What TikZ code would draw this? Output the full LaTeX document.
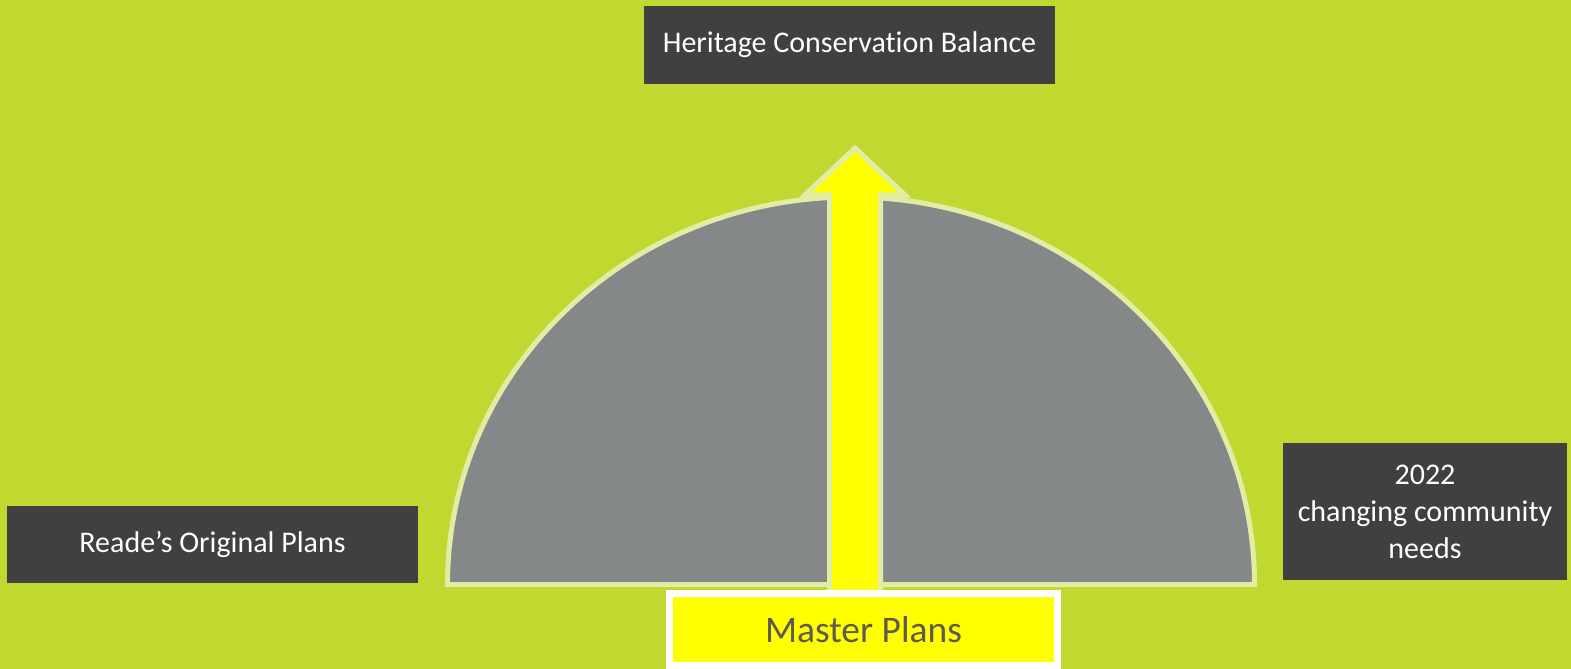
\documentclass[tikz,border=0pt]{standalone}
\usepackage{fontspec}
\setmainfont[Ligatures=NoCommon,RawFeature={-liga,-clig,-calt}]{Carlito}
\definecolor{bg}{RGB}{192,216,48}
\definecolor{darkbox}{RGB}{64,64,64}
\definecolor{domegray}{RGB}{133,136,136}
\definecolor{pale}{RGB}{226,236,165}
\definecolor{yel}{RGB}{255,255,0}
\definecolor{mptext}{RGB}{95,90,80}
\begin{document}
\begin{tikzpicture}[x=1pt,y=-1pt,
  labelbox/.style={fill=darkbox,draw=none,text=white,inner sep=0pt,font=\fontsize{30}{37}\selectfont,align=center},
  domestyle/.style={fill=domegray,draw=pale,line width=5pt,line join=miter},
  arrowstyle/.style={fill=yel,draw=pale,line width=5pt,line join=miter},
  mpbox/.style={fill=yel,draw=white,line width=7pt,text=mptext,inner sep=0pt,font=\fontsize{37.5}{44}\selectfont}]
\fill[bg] (0,0) rectangle (1571,669);
\useasboundingbox (0,0) rectangle (1571,669);
% boxes
\node[labelbox,minimum width=411pt,minimum height=78pt] (top) at (849.5,45) {Heritage Conservat\kern0pt ion Balance};
\node[labelbox,minimum width=411pt,minimum height=77pt] (left) at (212.5,544.5) {Reade’s Original Plans};
\node[labelbox,minimum width=284pt,minimum height=137pt] (right) at (1425,511.5) {2022\\changing community\\needs};
% dome
\draw[domestyle] (447.5,584.5) arc[start angle=180,end angle=0,x radius=403.5pt,y radius=387.5pt] -- cycle;
% arrow
\draw[arrowstyle] (855,148) -- (905,195) -- (880.5,195) -- (880.5,592) -- (829.5,592) -- (829.5,195) -- (805,195) -- cycle;
% master plans
\node[mpbox,minimum width=388pt,minimum height=72pt] (mp) at (863.5,629.5) {Master Plans};
\end{tikzpicture}
\end{document}
